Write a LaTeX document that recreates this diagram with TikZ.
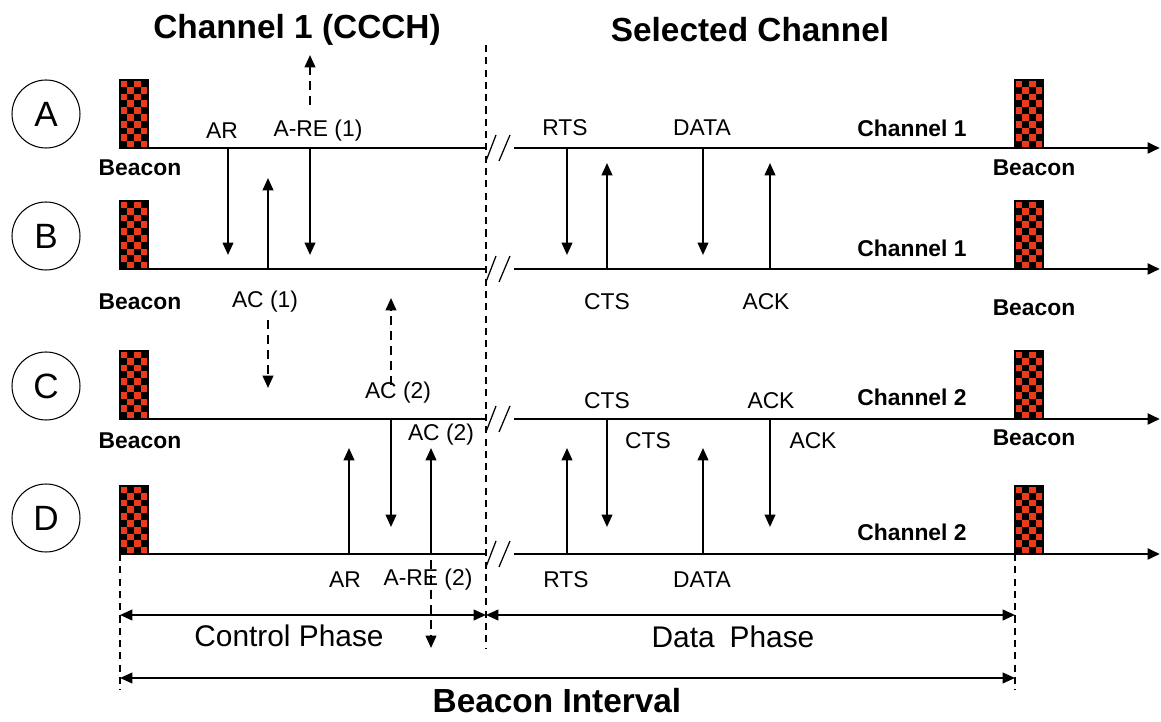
\documentclass[tikz,border=0pt]{standalone}
\usepackage{fontspec}
\setmainfont{Liberation Sans}
\usetikzlibrary{arrows.meta,positioning}
\definecolor{bcnred}{RGB}{236,58,28}

\tikzset{
  lane/.style={line width=1.7pt},
  tip/.style={-{Triangle[width=6pt,length=7pt]}},
  msg/.style={line width=1.2pt,tip},
  ctrl/.style={msg,dash pattern=on 5pt off 3.5pt},
  dim/.style={line width=1.2pt,{Triangle[width=6pt,length=7pt]}-{Triangle[width=6pt,length=7pt]}},
  guide/.style={line width=0.8pt,dash pattern=on 4pt off 3pt},
  brk/.style={line width=0.7pt},
  stn/.style={circle,draw,line width=0.6pt,minimum size=1.36cm,inner sep=0pt,font=\fontsize{20}{22}\selectfont},
  hdr/.style={font=\fontsize{19}{22}\selectfont\bfseries},
  bcnlbl/.style={font=\fontsize{13}{15}\selectfont\bfseries},
  chlbl/.style={font=\fontsize{13}{15}\selectfont\bfseries},
  lbl/.style={font=\fontsize{13}{15}\selectfont},
  phase/.style={font=\fontsize{17}{20}\selectfont},
  beacon/.pic={
    \fill[bcnred] (0,0) rectangle (28,-68);
    \foreach \i in {0,...,3}
      \foreach \j in {0,...,9}{
        \pgfmathtruncatemacro\pp{mod(\i+\j,2)}
        \ifnum\pp=0 \fill (7*\i,-6.8*\j) rectangle ++(7,-6.8); \fi
      }
    \draw[line width=0.8pt] (0,0) rectangle (28,-68);
  }
}

\begin{document}
\begin{tikzpicture}[x=0.02cm,y=-0.02cm]
    \useasboundingbox (0,0) rectangle (1161,722);

    % Headings
    \node[hdr] (ccch) at (297,30) {Channel 1 (CCCH)};
    \node[hdr] (sel)  at (750,30) {Selected Channel};

    % Stations and their time lines
    \foreach \s/\y/\cy in {A/148/114, B/269/236, C/419/386, D/554/518}{
        \node[stn] (st-\s) at (46,\cy) {\s};
        \coordinate (\s-l) at (120,\y);
        \coordinate (\s-b) at (485,\y);
        \coordinate (\s-r) at (514,\y);
        \coordinate (\s-e) at (1160,\y);
        \draw[lane] (\s-l) -- (\s-b);
        \draw[lane,tip] (\s-r) -- (\s-e);
        \draw[brk] (486,\y+13) -- (496,\y-13);
        \draw[brk] (499,\y+13) -- (510,\y-13);
        \pic at (\s-l) {beacon};
        \pic at (1015,\y) {beacon};
    }

    % Phase separators
    \draw[guide] (486,45) -- (486,648);
    \draw[guide] (A-l |- D-l) -- (120,690);
    \draw[guide] (1015,554) -- (1015,690);

    % Beacon and channel labels
    \node[bcnlbl] (bA)  at (140,168)  {Beacon};
    \node[bcnlbl] (bB)  at (140,302)  {Beacon};
    \node[bcnlbl] (bC)  at (140,441)  {Beacon};
    \node[bcnlbl] (bA2) at (1034,168) {Beacon};
    \node[bcnlbl] (bB2) at (1034,308) {Beacon};
    \node[bcnlbl] (bC2) at (1034,438) {Beacon};
    \node[chlbl] (chA) at (912,128) {Channel 1};
    \node[chlbl] (chB) at (912,248) {Channel 1};
    \node[chlbl] (chC) at (912,397) {Channel 2};
    \node[chlbl] (chD) at (912,532) {Channel 2};

    % Control phase messages
    \draw[msg] (228,0 |- A-l) -- ++(0,107);
    \draw[msg] (310,0 |- A-l) -- ++(0,107);
    \draw[msg] (268,0 |- B-l) -- ++(0,-91);
    \draw[msg] (391,0 |- C-l) -- ++(0,108);
    \draw[msg] (349,0 |- D-l) -- ++(0,-106);
    \draw[msg] (431,0 |- D-l) -- ++(0,-106);
    \draw[ctrl] (310,105) -- (310,55);
    \draw[ctrl] (268,320) -- (268,388);
    \draw[ctrl] (391,385) -- (391,298);
    \draw[ctrl] (431,560) -- (431,648);
    \node[lbl] (ar1)  at (222,131) {AR};
    \node[lbl] (are1) at (318,131) {A-RE (1)};
    \node[lbl] (ac1)  at (265,302) {AC (1)};
    \node[lbl] (ac2)  at (398,393) {AC (2)};
    \node[lbl] (ac2b) at (441,435) {AC (2)};
    \node[lbl] (ar2)  at (345,580) {AR};
    \node[lbl] (are2) at (428,580) {A-RE (2)};

    % Data phase messages
    \foreach \x in {567,703}{
        \draw[msg] (\x,0 |- A-l) -- ++(0,107);
        \draw[msg] (\x,0 |- D-l) -- ++(0,-106);
    }
    \foreach \x in {607,770}{
        \draw[msg] (\x,0 |- B-l) -- ++(0,-106);
        \draw[msg] (\x,0 |- C-l) -- ++(0,108);
    }
    \node[lbl] (rts1)  at (565,128) {RTS};
    \node[lbl] (data1) at (702,128) {DATA};
    \node[lbl] (cts1)  at (607,302) {CTS};
    \node[lbl] (ack1)  at (766,302) {ACK};
    \node[lbl] (cts2)  at (607,401) {CTS};
    \node[lbl] (ack2)  at (771,401) {ACK};
    \node[lbl] (cts3)  at (648,441) {CTS};
    \node[lbl] (ack3)  at (813,441) {ACK};
    \node[lbl] (rts2)  at (566,580) {RTS};
    \node[lbl] (data2) at (702,580) {DATA};

    % Phases
    \coordinate (cp-l) at (120,615);
    \coordinate (cp-r) at (486,615);
    \coordinate (dp-r) at (1015,615);
    \coordinate (bi-l) at (120,678);
    \coordinate (bi-r) at (1015,678);
    \draw[dim] (cp-l) -- (cp-r);
    \draw[dim] (cp-r) -- (dp-r);
    \draw[dim] (bi-l) -- (bi-r);
    \node[phase] (cph) at (289,636) {Control Phase};
    \node[phase] (dph) at (733,637) {Data\enspace Phase};
    \node[hdr,inner sep=0pt] (bin) at (557,701) {Beacon Interval};
\end{tikzpicture}
\end{document}
